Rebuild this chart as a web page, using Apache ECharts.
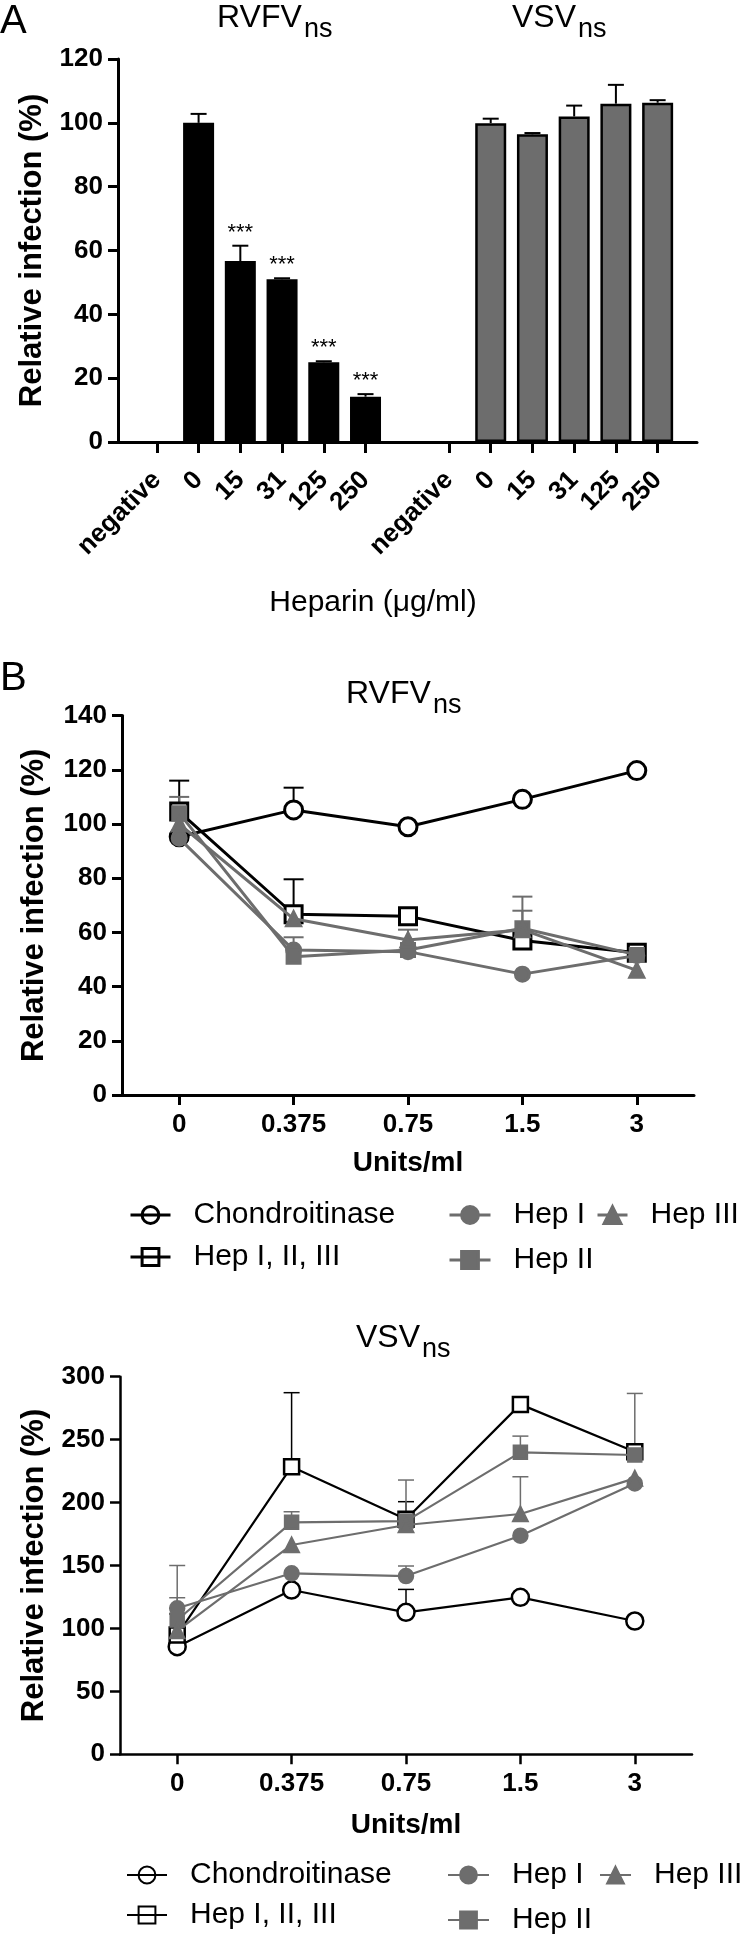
<!DOCTYPE html>
<html><head><meta charset="utf-8">
<script src="https://cdn.jsdelivr.net/npm/echarts@6/dist/echarts.min.js"></script>
<style>html,body{margin:0;padding:0;background:#fff}#c{width:750px;height:1937px}</style>
</head><body><div id="c"></div>
<script>
// ---------- DATA ----------
const heparinLabels = ['negative', '0', '15', '31', '125', '250'];
const rvfvBars = [null, 100.0, 56.7, 51.0, 25.0, 14.2];
const rvfvBarErrTop = [null, 102.8, 61.5, 51.3, 25.3, 15.0];
const rvfvStars = ['', '', '***', '***', '***', '***'];
const vsvBars = [null, 99.9, 96.4, 102.0, 106.0, 106.3];
const vsvBarErrTop = [null, 101.3, 96.8, 105.4, 111.9, 107.1];

const unitLabels = ['0', '0.375', '0.75', '1.5', '3'];
const seriesNames = ['Chondroitinase', 'Hep I, II, III', 'Hep I', 'Hep II', 'Hep III'];

// RVFVns (panel B)
const chondB = [95.3, 105.2, 99.0, 109.1, 119.7];
const chondBErr = [null, 113.4, null, null, null];
const hepAllB = [104.6, 66.7, 66.0, 57.0, 52.5];
const hepAllBErr = [116.0, 79.6, null, null, null];
const hep1B = [94.7, 53.5, 52.9, 44.6, 51.5];
const hep1BErr = [null, 58.2, null, null, null];
const hep2B = [104.0, 51.0, 53.5, 61.5, 51.7];
const hep2BErr = [110.0, null, null, 73.2, null];
const hep3B = [100.0, 65.0, 57.2, 61.0, 46.0];
const hep3BErr = [null, null, 61.0, 68.0, null];

// VSVns (panel C)
const chondC = [85.5, 130.5, 112.8, 124.7, 105.9];
const chondCErr = [null, null, 131.0, null, null];
const hepAllC = [94.8, 228.5, 186.7, 278.0, 240.4];
const hepAllCErr = [111.5, 287.3, 200.7, null, null];
const hep1C = [116.0, 143.8, 141.6, 173.7, 215.2];
const hep1CErr = [124.4, null, 149.6, null, null];
const hep2C = [106.7, 184.3, 185.3, 239.9, 237.8];
const hep2CErr = [150.0, 192.7, null, 252.8, 286.7];
const hep3C = [98.0, 166.3, 182.2, 190.9, 219.2];
const hep3CErr = [null, null, 217.9, 220.5, null];

// ---------- STYLE / BUILD ----------
const FF = "'Liberation Sans', Arial, Helvetica, sans-serif";
const BLACK = '#000000';
const GRAY = '#6d6d6d';
const WHITE = '#ffffff';

const barCategories = heparinLabels.concat([''], heparinLabels);
const blanks = heparinLabels.map(() => null);
const rvfvSeriesData = rvfvBars.concat([null], blanks);
const vsvSeriesData = blanks.concat([null], vsvBars);

function errData(values, tops, offset) {
  const out = [];
  values.forEach((v, i) => { if (v != null && tops[i] != null) out.push([i + offset, v, tops[i]]); });
  return out;
}
function errSeries(xi, yi, data, color, capHalf, lw, stars, z) {
  return {
    type: 'custom', xAxisIndex: xi, yAxisIndex: yi, z: z || 1, silent: true,
    data: data,
    renderItem: function (params, api) {
      const x = api.value(0), v = api.value(1), t = api.value(2);
      const p0 = api.coord([x, v]);
      const p1 = api.coord([x, t]);
      const ch = [
        { type: 'line', shape: { x1: p0[0], y1: p0[1], x2: p1[0], y2: p1[1] }, style: { stroke: color, lineWidth: lw } },
        { type: 'line', shape: { x1: p1[0] - capHalf, y1: p1[1], x2: p1[0] + capHalf, y2: p1[1] }, style: { stroke: color, lineWidth: lw } }
      ];
      if (stars) {
        const s = stars[data[params.dataIndex][0]];
        if (s) ch.push({ type: 'text', x: p1[0], y: p1[1] - 2, style: { text: s, fill: BLACK, font: '22px ' + FF, align: 'center', verticalAlign: 'bottom' } });
      }
      return { type: 'group', children: ch };
    }
  };
}

const axisLineStyle = (w) => ({ color: BLACK, width: w });
const tickLabel = { color: BLACK, fontSize: 26, fontWeight: 'bold', fontFamily: FF };
const yName = { color: BLACK, fontSize: 31, fontWeight: 'bold', fontFamily: FF };

function valueY(gridIndex, max, interval, lw, nameGap) {
  return {
    gridIndex: gridIndex, type: 'value', min: 0, max: max, interval: interval,
    name: 'Relative infection (%)', nameLocation: 'middle', nameRotate: 90, nameGap: nameGap,
    nameTextStyle: yName,
    axisLine: { show: true, lineStyle: axisLineStyle(lw) },
    axisTick: { show: true, length: 10, lineStyle: axisLineStyle(lw) },
    axisLabel: Object.assign({ margin: 15 }, tickLabel),
    splitLine: { show: false }
  };
}
function unitsX(gridIndex, lw, nameGap) {
  return {
    gridIndex: gridIndex, type: 'category', data: unitLabels, boundaryGap: true,
    name: 'Units/ml', nameLocation: 'middle', nameGap: nameGap,
    nameTextStyle: { color: BLACK, fontSize: 28, fontWeight: 'bold', fontFamily: FF },
    axisLine: { show: true, lineStyle: axisLineStyle(lw) },
    axisTick: { show: true, alignWithLabel: true, length: 10, lineStyle: axisLineStyle(lw) },
    axisLabel: Object.assign({ margin: 17, interval: 0 }, tickLabel),
    splitLine: { show: false }
  };
}

function lineSeries(xi, yi, name, values, color, fill, symbol, size, lw, bw, z) {
  return {
    type: 'line', name: name, xAxisIndex: xi, yAxisIndex: yi, data: values,
    symbol: symbol, symbolSize: size, z: z,
    lineStyle: { color: color, width: lw },
    itemStyle: { color: fill, borderColor: color, borderWidth: bw },
    emphasis: { disabled: true }, animation: false
  };
}

// name, values, error tops, stroke colour, fill colour, symbol, size
const bSets = [
  [seriesNames[0], chondB, chondBErr, BLACK, WHITE, 'circle', 18],
  [seriesNames[1], hepAllB, hepAllBErr, BLACK, WHITE, 'rect', 17],
  [seriesNames[2], hep1B, hep1BErr, GRAY, GRAY, 'circle', 14],
  [seriesNames[3], hep2B, hep2BErr, GRAY, GRAY, 'rect', 13],
  [seriesNames[4], hep3B, hep3BErr, GRAY, GRAY, 'triangle', 14]
];
const cSets = [
  [seriesNames[0], chondC, chondCErr, BLACK, WHITE, 'circle', 17],
  [seriesNames[1], hepAllC, hepAllCErr, BLACK, WHITE, 'rect', 15],
  [seriesNames[2], hep1C, hep1CErr, GRAY, GRAY, 'circle', 14],
  [seriesNames[3], hep2C, hep2CErr, GRAY, GRAY, 'rect', 13],
  [seriesNames[4], hep3C, hep3CErr, GRAY, GRAY, 'triangle', 14]
];

const series = [];
// Panel A bars
series.push({
  type: 'bar', name: 'RVFVns', xAxisIndex: 0, yAxisIndex: 0, data: rvfvSeriesData,
  barWidth: 31, barGap: '-100%',
  itemStyle: { color: BLACK, borderColor: BLACK, borderWidth: 2 }, z: 2, animation: false
});
series.push({
  type: 'bar', name: 'VSVns', xAxisIndex: 0, yAxisIndex: 0, data: vsvSeriesData,
  barWidth: 31, barGap: '-100%',
  itemStyle: { color: GRAY, borderColor: BLACK, borderWidth: 2.5 }, z: 2, animation: false
});
series.push(errSeries(0, 0, errData(rvfvBars, rvfvBarErrTop, 0), BLACK, 8, 2, rvfvStars, 1));
series.push(errSeries(0, 0, errData(vsvBars, vsvBarErrTop, heparinLabels.length + 1), BLACK, 8, 2, null, 1));

// Panel B lines
bSets.forEach((s) => {
  series.push(errSeries(2, 2, errData(s[1], s[2], 0), s[3], 10, 2, null, 1));
});
bSets.forEach((s, k) => {
  series.push(lineSeries(2, 2, s[0], s[1], s[3], s[4], s[5], s[6], 3, 3, 3 + k));
});
// Panel C lines
cSets.forEach((s) => {
  series.push(errSeries(3, 3, errData(s[1], s[2], 0), s[3], 8, 1.5, null, 1));
});
cSets.forEach((s, k) => {
  series.push(lineSeries(3, 3, s[0] + ' ', s[1], s[3], s[4], s[5], s[6], 2.2, 2.5, 3 + k));
});

const OPEN = ['Chondroitinase', 'Hep I, II, III'];
function legendBlock(names, left, top, gap, iw, lw, bw) {
  return {
    orient: 'vertical', left: left, top: top, padding: 0, itemGap: gap,
    itemWidth: iw, itemHeight: 21, selectedMode: false,
    data: names.map((n) => OPEN.indexOf(n.trim()) >= 0
      ? { name: n, itemStyle: { color: 'rgba(255,255,255,0)', borderColor: BLACK, borderWidth: bw } }
      : { name: n }),
    formatter: (n) => n.trim(),
    lineStyle: { width: lw },
    itemStyle: { borderWidth: bw },
    textStyle: { color: BLACK, fontSize: 30, fontFamily: FF, lineHeight: 34, padding: [0, 0, 0, 18] }
  };
}

const option = {
  backgroundColor: '#ffffff',
  animation: false,
  title: [
    { text: 'A', left: 0, top: 2, padding: 0, textStyle: { fontSize: 40, fontWeight: 'normal', color: BLACK, fontFamily: FF } },
    { text: 'RVFV', left: 217, top: 2, padding: 0, textStyle: { fontSize: 32, fontWeight: 'normal', color: BLACK, fontFamily: FF } },
    { text: 'ns', left: 304, top: 16, padding: 0, textStyle: { fontSize: 27, fontWeight: 'normal', color: BLACK, fontFamily: FF } },
    { text: 'VSV', left: 512, top: 2, padding: 0, textStyle: { fontSize: 32, fontWeight: 'normal', color: BLACK, fontFamily: FF } },
    { text: 'ns', left: 578, top: 16, padding: 0, textStyle: { fontSize: 27, fontWeight: 'normal', color: BLACK, fontFamily: FF } },
    { text: 'Heparin (\u03bcg/ml)', left: 373, top: 588, textAlign: 'center', padding: 0, textStyle: { fontSize: 30, fontWeight: 'normal', color: BLACK, fontFamily: FF } },
    { text: 'B', left: 0, top: 659, padding: 0, textStyle: { fontSize: 40, fontWeight: 'normal', color: BLACK, fontFamily: FF } },
    { text: 'RVFV', left: 346, top: 678, padding: 0, textStyle: { fontSize: 32, fontWeight: 'normal', color: BLACK, fontFamily: FF } },
    { text: 'ns', left: 433, top: 692, padding: 0, textStyle: { fontSize: 27, fontWeight: 'normal', color: BLACK, fontFamily: FF } },
    { text: 'VSV', left: 356, top: 1322, padding: 0, textStyle: { fontSize: 32, fontWeight: 'normal', color: BLACK, fontFamily: FF } },
    { text: 'ns', left: 422, top: 1336, padding: 0, textStyle: { fontSize: 27, fontWeight: 'normal', color: BLACK, fontFamily: FF } }
  ],
  legend: [
    legendBlock([seriesNames[0], seriesNames[1]], 129, 1198, 8, 40, 3, 3),
    legendBlock([seriesNames[2], seriesNames[3]], 448, 1198, 11, 41, 3, 3),
    legendBlock([seriesNames[4]], 596, 1198, 8, 30, 3, 3),
    legendBlock([seriesNames[0] + ' ', seriesNames[1] + ' '], 126, 1858, 6, 40, 2, 2),
    legendBlock([seriesNames[2] + ' ', seriesNames[3] + ' '], 447, 1858, 11, 41, 2, 2),
    legendBlock([seriesNames[4] + ' '], 599, 1858, 8, 31, 2, 2)
  ],
  grid: [
    { left: 136, top: 59, width: 542.5, height: 383 },
    { left: 118, top: 59, width: 579, height: 383 },
    { left: 122, top: 715.6, width: 572, height: 379.4 },
    { left: 120, top: 1376.7, width: 572, height: 377.6 }
  ],
  xAxis: [
    {
      gridIndex: 0, type: 'category', data: barCategories, boundaryGap: true,
      axisLine: { show: false },
      axisTick: { show: true, alignWithLabel: true, length: 11, interval: (i, v) => v !== '', lineStyle: axisLineStyle(3) },
      axisLabel: Object.assign({ rotate: 45, margin: 34, interval: (i, v) => v !== '', fontSize: 26 }, { color: BLACK, fontWeight: 'bold', fontFamily: FF }),
      splitLine: { show: false }
    },
    {
      gridIndex: 1, type: 'value', min: 0, max: 1,
      axisLine: { show: true, onZero: false, lineStyle: axisLineStyle(3) },
      axisTick: { show: false }, axisLabel: { show: false }, splitLine: { show: false }
    },
    unitsX(2, 3, 54),
    unitsX(3, 2.5, 57)
  ],
  yAxis: [
    { gridIndex: 0, type: 'value', min: 0, max: 120, show: false, splitLine: { show: false } },
    valueY(1, 120, 20, 3, 70),
    valueY(2, 140, 20, 3, 72),
    valueY(3, 300, 50, 2.5, 70)
  ],
  series: series
};

const chart = echarts.init(document.getElementById('c'), null, { renderer: 'canvas', width: 750, height: 1937 });
chart.setOption(option);
</script>
</body></html>
